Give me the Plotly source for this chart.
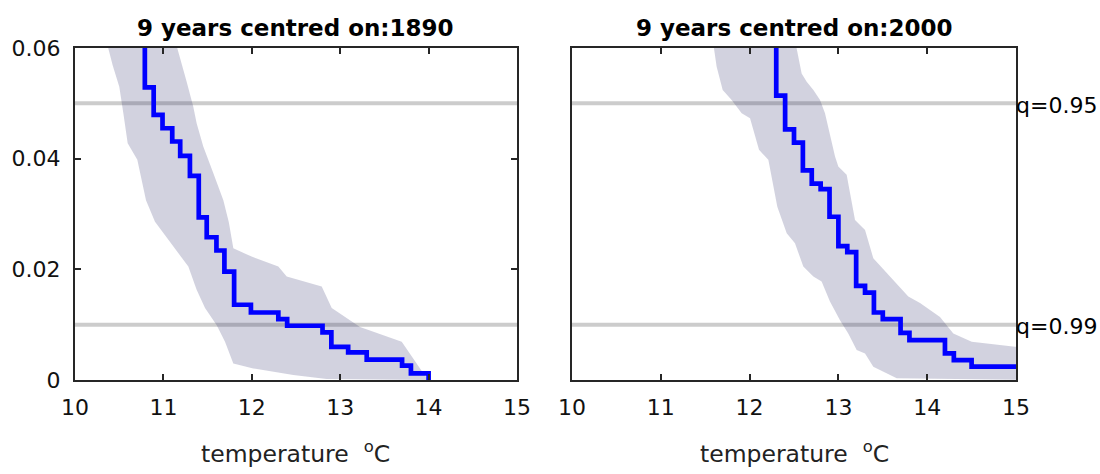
import plotly.graph_objects as go

# ---------------- data ----------------
titles = ["9 years centred on:1890", "9 years centred on:2000"]
x_ticks = [10, 11, 12, 13, 14, 15]
y_ticks = [0, 0.02, 0.04, 0.06]
y_tick_text = ["0", "0.02", "0.04", "0.06"]
q_levels = [0.05, 0.01]
q_labels = ["q=0.95", "q=0.99"]

# step curve (exceedance vs temperature), panel 1890
step1_x = [10.79, 10.79, 10.89, 10.99, 11.10, 11.19, 11.30, 11.40, 11.49, 11.60, 11.69,
           11.80, 11.99, 12.30, 12.40, 12.80, 12.90, 13.09, 13.30, 13.70, 13.80, 14.00]
step1_y = [0.065, 0.0529, 0.0479, 0.0455, 0.0431, 0.0405, 0.0369, 0.0294, 0.0258, 0.0234, 0.0196,
           0.0136, 0.0122, 0.0110, 0.0098, 0.0086, 0.0060, 0.0050, 0.0037, 0.0026, 0.0012, 0.0]

# step curve, panel 2000
step2_x = [12.30, 12.30, 12.40, 12.50, 12.60, 12.70, 12.80, 12.90, 13.00, 13.10, 13.20,
           13.30, 13.40, 13.50, 13.70, 13.80, 14.20, 14.30, 14.50, 15.20]
step2_y = [0.065, 0.0514, 0.0453, 0.0429, 0.0379, 0.0355, 0.0345, 0.0295, 0.0242, 0.0231, 0.0170,
           0.0158, 0.0122, 0.0110, 0.0085, 0.0072, 0.0048, 0.0036, 0.0024, 0.0024]

# uncertainty band, panel 1890 (cold edge, then warm edge), top to bottom
band1_lo_x = [10.35, 10.377, 10.426, 10.501, 10.547, 10.596, 10.705, 10.803, 10.905, 11.131,
              11.282, 11.376, 11.471, 11.603, 11.697, 11.791, 12.017, 12.470, 12.847, 14.00]
band1_lo_y = [0.065, 0.0599, 0.0569, 0.0530, 0.0482, 0.0428, 0.0398, 0.0325, 0.0286, 0.0238,
              0.0205, 0.0163, 0.0130, 0.0099, 0.0069, 0.0030, 0.0021, 0.0009, 0.0002, 0.0]
band1_hi_x = [11.13, 11.158, 11.263, 11.338, 11.376, 11.451, 11.564, 11.678, 11.740, 11.791,
              11.998, 12.300, 12.395, 12.791, 12.904, 13.224, 13.696, 13.940, 14.00]
band1_hi_y = [0.065, 0.0599, 0.0539, 0.0494, 0.0464, 0.0422, 0.0374, 0.0325, 0.0285, 0.0238,
              0.0223, 0.0205, 0.0187, 0.0169, 0.0130, 0.0096, 0.0069, 0.0012, 0.0]

# uncertainty band, panel 2000
band2_lo_x = [11.58, 11.599, 11.629, 11.697, 11.798, 11.911, 12.005, 12.106, 12.211, 12.312,
              12.418, 12.511, 12.605, 12.718, 12.811, 12.905, 13.018, 13.111, 13.206, 13.300,
              13.393, 13.657, 15.20]
band2_lo_y = [0.065, 0.0599, 0.0566, 0.0524, 0.0506, 0.0482, 0.0473, 0.0416, 0.0398, 0.0313,
              0.0265, 0.0247, 0.0205, 0.0187, 0.0178, 0.0142, 0.0108, 0.0084, 0.0054, 0.0048,
              0.0024, 0.0003, 0.0]
band2_hi_x = [12.50, 12.530, 12.586, 12.643, 12.718, 12.793, 12.849, 12.962, 12.999, 13.093,
              13.187, 13.300, 13.393, 13.581, 13.787, 13.919, 14.144, 14.294, 14.501, 14.989,
              15.20, 15.20]
band2_hi_y = [0.065, 0.0599, 0.0554, 0.0539, 0.0524, 0.0506, 0.0482, 0.0404, 0.0386, 0.0371,
              0.0289, 0.0271, 0.0220, 0.0187, 0.0151, 0.0139, 0.0114, 0.0084, 0.0069, 0.0060,
              0.0060, 0.0]

panels = [
    (step1_x, step1_y, band1_lo_x, band1_lo_y, band1_hi_x, band1_hi_y),
    (step2_x, step2_y, band2_lo_x, band2_lo_y, band2_hi_x, band2_hi_y),
]

# ---------------- styling ----------------
W, H = 1100, 474
TOP, BOT = 48, 380          # plot area top / bottom in pixels
FONT = "DejaVu Sans"
AXC = "#262626"
domains = [[75 / W, 517 / W], [572 / W, 1016 / W]]
BAND = "rgba(50,50,110,0.22)"
GREY = "rgb(204,204,204)"
BLUE = "rgb(0,0,255)"


def py(pix):
    """pixel row -> paper y coordinate"""
    return (BOT - pix) / (BOT - TOP)


fig = go.Figure()

for i, (sx, sy, lx, ly, hx, hy) in enumerate(panels):
    xa = "x" if i == 0 else "x2"
    ya = "y" if i == 0 else "y2"
    for q in q_levels:
        fig.add_trace(go.Scatter(x=[x_ticks[0], x_ticks[-1]], y=[q, q], mode="lines",
                                 line=dict(color=GREY, width=4), xaxis=xa, yaxis=ya,
                                 showlegend=False, hoverinfo="skip"))
    poly_x = list(lx) + list(hx)[::-1]
    poly_y = list(ly) + list(hy)[::-1]
    fig.add_trace(go.Scatter(x=poly_x, y=poly_y, mode="lines", fill="toself",
                             fillcolor=BAND, line=dict(width=0, color=BAND),
                             xaxis=xa, yaxis=ya, showlegend=False, hoverinfo="skip"))
    fig.add_trace(go.Scatter(x=sx, y=sy, mode="lines", line=dict(color=BLUE, width=4.7, shape="hv"),
                             xaxis=xa, yaxis=ya, showlegend=False))

xcommon = dict(range=[10, 15], tickvals=x_ticks, ticks="inside", ticklen=6, tickwidth=1.5,
               tickcolor=AXC, showline=True, linecolor=AXC, linewidth=2, mirror="ticks",
               showgrid=False, zeroline=False, automargin=False,
               tickfont=dict(family=FONT, size=22, color="#111"), ticklabelstandoff=7)
ycommon = dict(range=[0, 0.06], showline=True, linecolor=AXC, linewidth=2,
               showgrid=False, zeroline=False, automargin=False)

fig.update_layout(
    width=W, height=H,
    margin=dict(l=0, r=0, t=TOP, b=H - BOT),
    plot_bgcolor="white", paper_bgcolor="white",
    xaxis=dict(xcommon, domain=domains[0], anchor="y"),
    xaxis2=dict(xcommon, domain=domains[1], anchor="y2"),
    yaxis=dict(ycommon, anchor="x", tickvals=y_ticks, ticktext=y_tick_text, ticks="inside",
               ticklen=6, tickwidth=1.5, tickcolor=AXC, mirror="ticks",
               tickfont=dict(family=FONT, size=22, color="#111"), ticklabelstandoff=8),
    yaxis2=dict(ycommon, anchor="x2", showticklabels=False, ticks="", mirror=True),
)

annotations = []
for i, d in enumerate(domains):
    cx = (d[0] + d[1]) / 2
    annotations.append(dict(text="<b>" + titles[i] + "</b>", x=cx, y=py(28),
                            xref="paper", yref="paper", xanchor="center", yanchor="middle",
                            showarrow=False, font=dict(family=FONT, size=23, color="black")))
    annotations.append(dict(text="temperature  <sup>o</sup>C", x=cx, y=py(452),
                            xref="paper", yref="paper", xanchor="center", yanchor="middle",
                            showarrow=False, font=dict(family=FONT, size=23.5, color="#222")))
for q, lab in zip(q_levels, q_labels):
    annotations.append(dict(text=lab, x=15, y=q, xref="x2", yref="y2", xanchor="left",
                            yanchor="middle", xshift=-2, yshift=-2, showarrow=False,
                            font=dict(family=FONT, size=22, color="black")))
fig.update_layout(annotations=annotations)

fig.write_html("out.html")
